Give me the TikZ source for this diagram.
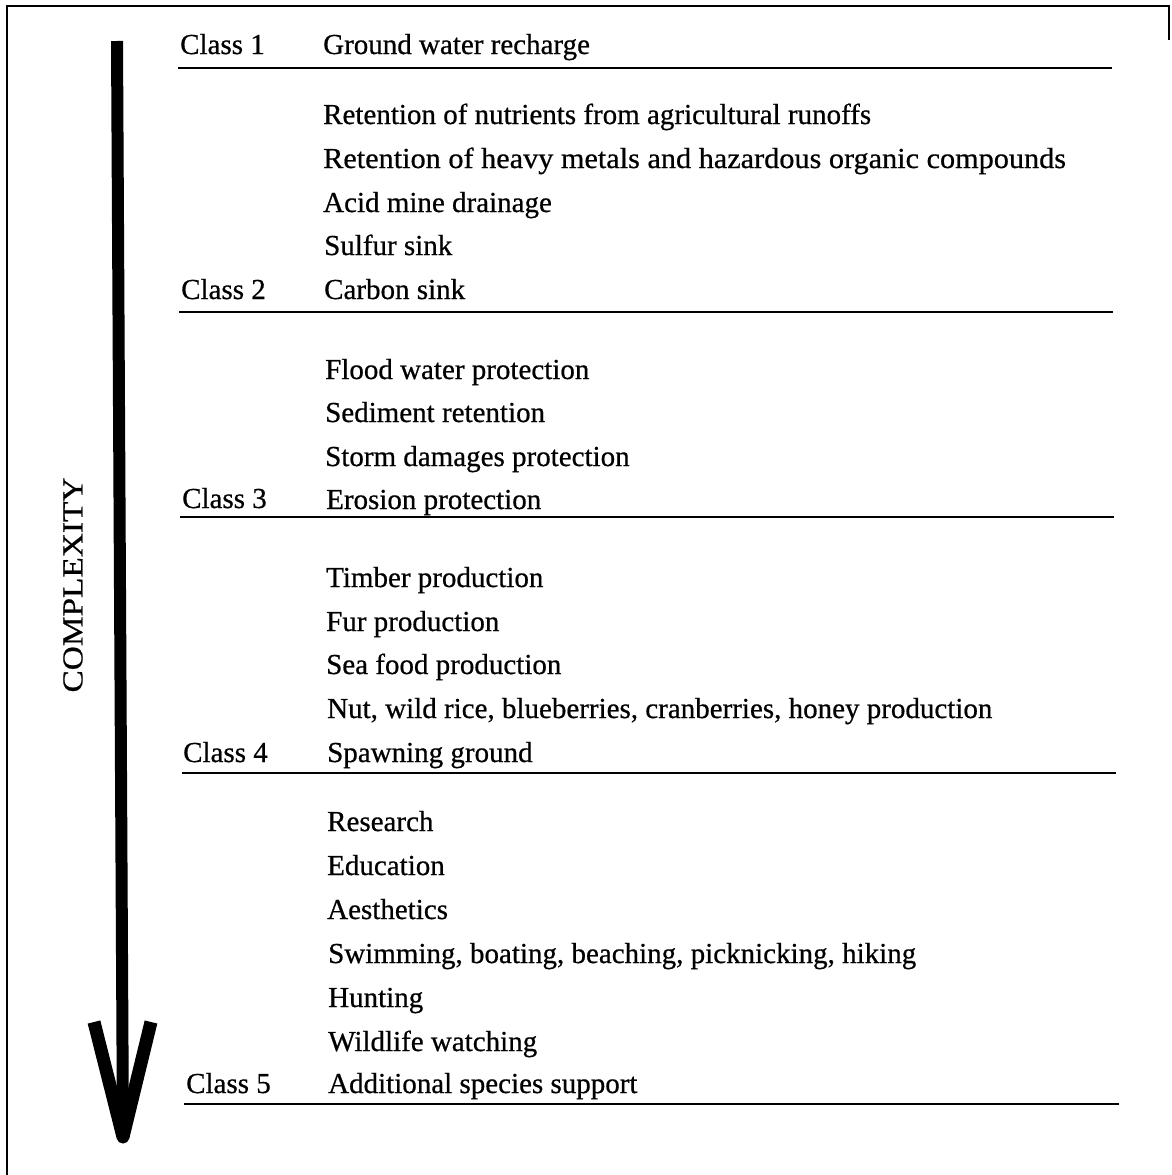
\documentclass[tikz,border=0pt]{standalone}
\usepackage{fontspec}
\usepackage{graphicx}
\setmainfont{Liberation Serif}[FakeBold=0.6]
\begin{document}
\begin{tikzpicture}[x=1pt,y=-1pt,
  txt/.style={anchor=base west,inner sep=0pt,font=\fontsize{29}{34}\selectfont},
  rule/.style={line width=2.8pt},
  frame/.style={line width=1.6pt}]
\useasboundingbox (0,0) rectangle (1171,1175);
% frame
\draw[frame] (7,1175) -- (7,6) -- (1169,6) -- (1169,40);
% arrow
\coordinate (atop) at (117,41);
\coordinate (atip) at (123,1137);
\coordinate (bl) at (94,1022);
\coordinate (br) at (151,1022);
\draw[line width=12pt] (atop) -- (atip);
\draw[line width=13pt,line join=round] (bl) -- (atip) -- (br);
\node[rotate=90,inner sep=0pt,font=\fontsize{29}{34}\selectfont] (cx) at (73,585) {\scalebox{1.15}[1]{COMPLEXITY}};
% class labels
\node[txt] (c1) at (180,54) {Class 1};
\node[txt] (c2) at (181,299) {Class 2};
\node[txt] (c3) at (182,508) {Class 3};
\node[txt] (c4) at (183,762) {Class 4};
\node[txt] (c5) at (186,1093) {Class 5};
% items
\node[txt] (i1) at (323,54) {Ground water recharge};
\node[txt] (i2) at (323,124) {Retention of nutrients from agricultural runoffs};
\node[txt] (i3) at (323,168) {\scalebox{1.043}[1]{Retention of heavy metals and hazardous organic compounds}};
\node[txt] (i4) at (323,212) {Acid mine drainage};
\node[txt] (i5) at (324,255) {Sulfur sink};
\node[txt] (i6) at (324,299) {Carbon sink};
\node[txt] (i7) at (325,379) {Flood water protection};
\node[txt] (i8) at (325,422) {Sediment retention};
\node[txt] (i9) at (325,466) {Storm damages protection};
\node[txt] (i10) at (326,509) {Erosion protection};
\node[txt] (i11) at (326,587) {Timber production};
\node[txt] (i12) at (326,631) {Fur production};
\node[txt] (i13) at (326,674) {Sea food production};
\node[txt] (i14) at (327,718) {Nut, wild rice, blueberries, cranberries, honey production};
\node[txt] (i15) at (327,762) {Spawning ground};
\node[txt] (i16) at (327,831) {Research};
\node[txt] (i17) at (327,875) {Education};
\node[txt] (i18) at (327,919) {Aesthetics};
\node[txt] (i19) at (328,963) {Swimming, boating, beaching, picknicking, hiking};
\node[txt] (i20) at (328,1007) {Hunting};
\node[txt] (i21) at (328,1051) {Wildlife watching};
\node[txt] (i22) at (328,1093) {Additional species support};
% rules
\coordinate (r1a) at (178,68);   \coordinate (r1b) at (1112,68);
\coordinate (r2a) at (179,312);  \coordinate (r2b) at (1113,312);
\coordinate (r3a) at (180,517);  \coordinate (r3b) at (1114,517);
\coordinate (r4a) at (182,773);  \coordinate (r4b) at (1116,773);
\coordinate (r5a) at (184,1104); \coordinate (r5b) at (1119,1104);
\draw[rule] (r1a) -- (r1b);
\draw[rule] (r2a) -- (r2b);
\draw[rule] (r3a) -- (r3b);
\draw[rule] (r4a) -- (r4b);
\draw[rule] (r5a) -- (r5b);
\end{tikzpicture}
\end{document}
